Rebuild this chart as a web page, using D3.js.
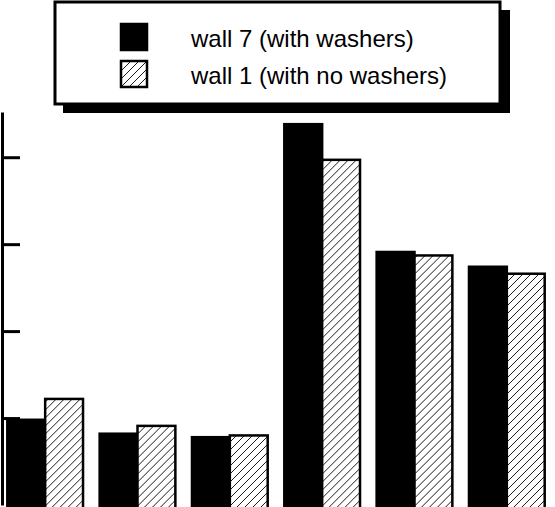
<!DOCTYPE html>
<html><head><meta charset="utf-8">
<script src="https://cdn.jsdelivr.net/npm/d3@7"></script>
<style>body{margin:0;background:#fff}svg{display:block}</style>
</head><body><div class="chart"></div>
<script>
const groups = ['g1','g2','g3','g4','g5','g6'];
const series = ['wall 7 (with washers)','wall 1 (with no washers)'];
const wall7 = [0.98, 0.82, 0.78, 4.38, 2.91, 2.74];
const wall1 = [1.22, 0.91, 0.80, 3.97, 2.87, 2.66];
const yTicks = [1, 2, 3, 4];

const width = 555, height = 507;
const svg = d3.select('.chart').append('svg').attr('width', width).attr('height', height);

const defs = svg.append('defs');
const pat = defs.append('pattern').attr('id','hatch').attr('patternUnits','userSpaceOnUse')
    .attr('width',8).attr('height',8);
pat.append('rect').attr('width',8).attr('height',8).attr('fill','#fff');
pat.append('path').attr('d','M-2,2 L2,-2 M0,8 L8,0 M6,10 L10,6').attr('stroke','#000').attr('stroke-width',0.9);

const x = d3.scaleBand().domain(groups).range([-1, 553]).paddingInner(0.18).paddingOuter(0.09);
const xs = d3.scaleBand().domain(series).range([0, x.bandwidth()]);
const y = d3.scaleLinear().domain([0, 4.52]).range([505, 112]);

const data = groups.map((g, i) => ({g, vals: [wall7[i], wall1[i]]}));
const grp = svg.selectAll('.grp').data(data).enter().append('g')
    .attr('transform', d => `translate(${x(d.g)},0)`);
grp.selectAll('rect').data(d => d.vals.map((v, j) => ({v, s: series[j], j}))).enter().append('rect')
    .attr('x', d => xs(d.s))
    .attr('y', d => y(d.v))
    .attr('width', xs.bandwidth())
    .attr('height', d => y(0) - y(d.v) + 4)
    .attr('fill', d => d.j === 0 ? '#000' : 'url(#hatch)')
    .attr('stroke', '#000').attr('stroke-width', 2.5);

svg.append('g').attr('transform','translate(2,0)')
    .call(d3.axisRight(y).tickValues(yTicks).tickSize(18).tickFormat('').tickSizeOuter(0))
    .call(g => g.select('.domain').attr('stroke-width',3))
    .call(g => g.selectAll('.tick line').attr('stroke-width',3));

// legend
const lg = svg.append('g');
lg.append('rect').attr('x',63).attr('y',10).attr('width',447).attr('height',103).attr('fill','#000');
lg.append('rect').attr('x',55).attr('y',2).attr('width',445).attr('height',102)
    .attr('fill','#fff').attr('stroke','#000').attr('stroke-width',3);
series.forEach((s, i) => {
    lg.append('rect').attr('x',121).attr('y',24 + i*37).attr('width',26).attr('height',26)
        .attr('fill', i === 0 ? '#000' : 'url(#hatch)').attr('stroke','#000').attr('stroke-width',2.5);
    lg.append('text').attr('x',191).attr('y',47 + i*37).text(s)
        .attr('font-family','Liberation Sans, Arial, sans-serif').attr('font-size',24).attr('fill','#000');
});
</script></body></html>
